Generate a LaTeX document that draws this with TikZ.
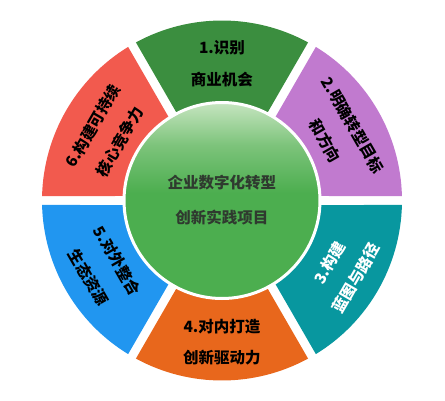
\documentclass[tikz,border=0pt]{standalone}
\usepackage{fontspec}
\newfontfamily\cjk{Noto Sans CJK SC}
\definecolor{shiBie}{HTML}{3B8E3F}
\definecolor{mingQue}{HTML}{C17ACF}
\definecolor{gouJian}{HTML}{08979F}
\definecolor{duiNei}{HTML}{E8671C}
\definecolor{duiWai}{HTML}{2196F0}
\definecolor{chiXu}{HTML}{F25A4E}
\definecolor{hubTop}{HTML}{C6E5C0}
\definecolor{hubMid}{HTML}{7CC37A}
\definecolor{hubBot}{HTML}{4CAE4F}
\definecolor{hubText}{HTML}{2F3A2F}
\pgfdeclareverticalshading{hubShade}{100bp}{color(0bp)=(hubBot); color(52bp)=(hubBot); color(64bp)=(hubMid); color(75bp)=(hubTop); color(100bp)=(hubTop)}

\begin{document}
\begin{tikzpicture}[x=1pt,y=1pt,
  lbl/.style={font=\cjk\bfseries\fontsize{15.5}{18}\selectfont,text=black,inner sep=0pt}]
\useasboundingbox (-222,-199.5) rectangle (223,200.5);
\fill[shiBie](61.43:180) arc[start angle=61.43,end angle=118.57,radius=180]--(117.13:90) arc[start angle=117.13,end angle=62.87,radius=90]--cycle;
\fill[mingQue](1.43:180) arc[start angle=1.43,end angle=58.57,radius=180]--(57.13:90) arc[start angle=57.13,end angle=2.87,radius=90]--cycle;
\fill[gouJian](-58.57:180) arc[start angle=-58.57,end angle=-1.43,radius=180]--(-2.87:90) arc[start angle=-2.87,end angle=-57.13,radius=90]--cycle;
\fill[duiNei](-118.57:180) arc[start angle=-118.57,end angle=-61.43,radius=180]--(-62.87:90) arc[start angle=-62.87,end angle=-117.13,radius=90]--cycle;
\fill[duiWai](181.43:180) arc[start angle=181.43,end angle=238.57,radius=180]--(237.13:90) arc[start angle=237.13,end angle=182.87,radius=90]--cycle;
\fill[chiXu](121.43:180) arc[start angle=121.43,end angle=178.57,radius=180]--(177.13:90) arc[start angle=177.13,end angle=122.87,radius=90]--cycle;
\shade[shading=hubShade,draw=white,line width=3pt](0,0) circle[radius=98];
\node[lbl,text=hubText](hub1) at (0,17.5){企业数字化转型};
\node[lbl,text=hubText](hub2) at (0,-17.5){创新实践项目};
\node[lbl](shiBie1) at (90:153){1.识别};
\node[lbl](shiBie2) at (90:121){商业机会};
\node[lbl,rotate=-60](mingQue1) at (30:151){2.明确转型目标};
\node[lbl,rotate=-60](mingQue2) at (30:119){和方向};
\node[lbl,rotate=60,text=white](gouJian1) at (-30:124){3.构建};
\node[lbl,rotate=60,text=white](gouJian2) at (-30:155){蓝图与路径};
\node[lbl](duiNei1) at (-90:126){4.对内打造};
\node[lbl](duiNei2) at (-90:157){创新驱动力};
\node[lbl,rotate=-60](duiWai1) at (210:121){5.对外整合};
\node[lbl,rotate=-60](duiWai2) at (210:154){生态资源};
\node[lbl,rotate=60](chiXu1) at (150:149){6.构建可持续};
\node[lbl,rotate=60](chiXu2) at (150:118){核心竞争力};
\end{tikzpicture}
\end{document}
